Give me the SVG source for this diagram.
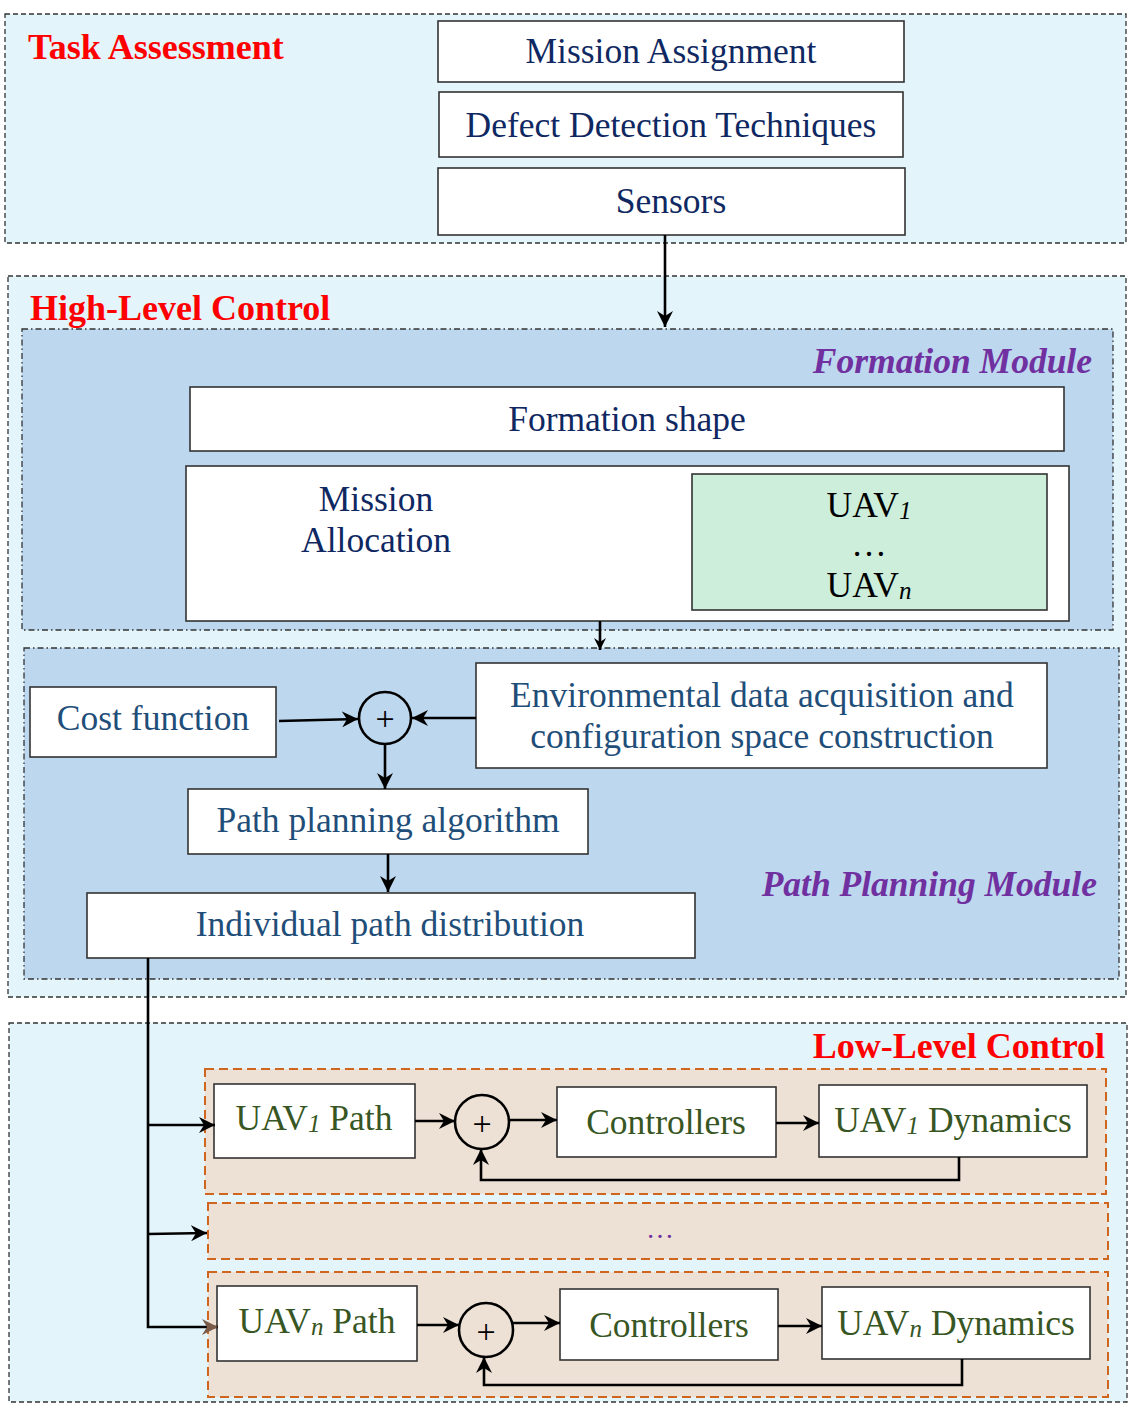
<svg xmlns="http://www.w3.org/2000/svg" width="1128" height="1415" viewBox="0 0 1128 1415">
<style>
.cont{fill:#E3F4FB;stroke:#333;stroke-width:1.3;stroke-dasharray:5,3}
.mod{fill:#BDD7EE;stroke:#333;stroke-width:1.3;stroke-dasharray:6,3,1.5,3}
.row{fill:#EDE1D6;stroke:#D0661E;stroke-width:2;stroke-dasharray:9,5}
.box{fill:#fff;stroke:#333;stroke-width:1.6}
.green{fill:#CCEEDB;stroke:#333;stroke-width:1.6}
text{font-family:"Liberation Serif","Times New Roman",serif;font-size:35.5px}
.t{text-anchor:middle}
.navy{fill:#0F2862}
.blue{fill:#1F4E79}
.grn{fill:#375623}
.blk{fill:#000}
.title{fill:#FF0000;font-weight:bold;font-size:36px}
.modlbl{fill:#7030A0;font-weight:bold;font-style:italic;text-anchor:end;font-size:35.5px}
.sub{font-style:italic;font-size:25px}
.plus{font-size:34px}
.conn{fill:none;stroke:#000;stroke-width:2.6}
.circ{fill:none;stroke:#000;stroke-width:2.6}
</style>
<defs>
<marker id="arr" markerUnits="userSpaceOnUse" markerWidth="18" markerHeight="16" refX="16" refY="8" orient="auto">
<path d="M0,0 L16,8 L0,16 L5,8 Z" fill="#000"/>
</marker>
<marker id="arrs" markerUnits="userSpaceOnUse" markerWidth="14" markerHeight="12" refX="12" refY="6" orient="auto">
<path d="M0,0 L12,6 L0,12 L4,6 Z" fill="#000"/>
</marker>
<marker id="arrb" markerUnits="userSpaceOnUse" markerWidth="18" markerHeight="16" refX="16" refY="8" orient="auto">
<path d="M0,0 L16,8 L0,16 L5,8 Z" fill="#7A5A48"/>
</marker>
</defs>

<g id="task-assessment">
<rect class="cont" x="5" y="14" width="1121" height="229"/>
<text class="title" x="28" y="59">Task Assessment</text>
</g>
<g id="mission-assignment">
<rect class="box" x="438" y="21" width="466" height="61"/>
<text class="t navy" x="671" y="63">Mission Assignment</text>
</g>
<g id="defect-detection">
<rect class="box" x="439" y="92" width="464" height="65"/>
<text class="t navy" x="671" y="137">Defect Detection Techniques</text>
</g>
<g id="sensors">
<rect class="box" x="438" y="168" width="467" height="67"/>
<text class="t navy" x="671" y="213">Sensors</text>
</g>

<g id="high-level-control">
<rect class="cont" x="8" y="276" width="1118" height="721"/>
<text class="title" x="30" y="320">High-Level Control</text>
</g>
<g id="formation-module">
<rect class="mod" x="22" y="329" width="1091" height="301"/>
<text class="modlbl" x="1092" y="373">Formation Module</text>
</g>
<g id="formation-shape">
<rect class="box" x="190" y="387" width="874" height="64"/>
<text class="t navy" x="627" y="431">Formation shape</text>
</g>
<g id="mission-allocation">
<rect class="box" x="186" y="466" width="883" height="155"/>
<text class="t navy" x="376" y="511">Mission</text>
<text class="t navy" x="376" y="552">Allocation</text>
</g>
<g id="uav-list">
<rect class="green" x="692" y="474" width="355" height="136"/>
<text class="t blk" x="869" y="517">UAV<tspan class="sub" dy="2">1</tspan></text>
<text class="t blk" x="869" y="556">…</text>
<text class="t blk" x="869" y="597">UAV<tspan class="sub" dy="2">n</tspan></text>
</g>

<g id="path-planning-module">
<rect class="mod" x="24" y="648" width="1095" height="331"/>
<text class="modlbl" x="1097" y="896">Path Planning Module</text>
</g>
<g id="cost-function">
<rect class="box" x="30" y="687" width="246" height="70"/>
<text class="t blue" x="153" y="730">Cost function</text>
</g>
<g id="sum-high">
<circle class="circ" cx="385" cy="718" r="26"/>
<text class="t blk plus" x="385" y="730">+</text>
</g>
<g id="environmental-data">
<rect class="box" x="476" y="663" width="571" height="105"/>
<text class="t blue" x="762" y="707">Environmental data acquisition and</text>
<text class="t blue" x="762" y="748">configuration space construction</text>
</g>
<g id="path-planning-algorithm">
<rect class="box" x="188" y="789" width="400" height="65"/>
<text class="t blue" x="388" y="832">Path planning algorithm</text>
</g>
<g id="individual-path-distribution">
<rect class="box" x="87" y="893" width="608" height="65"/>
<text class="t blue" x="390" y="936">Individual path distribution</text>
</g>

<g id="low-level-control">
<rect class="cont" x="9" y="1023" width="1118" height="379"/>
<text class="title" x="1105" y="1058" style="text-anchor:end">Low-Level Control</text>
</g>
<g id="row-uav1">
<rect class="row" x="205" y="1069" width="901" height="125"/>
</g>
<g id="row-dots">
<rect class="row" x="208" y="1203" width="900" height="56"/>
<text class="t" x="660" y="1238" style="fill:#7030A0;font-size:28px">…</text>
</g>
<g id="row-uavn">
<rect class="row" x="208" y="1272" width="900" height="125"/>
</g>

<g id="uav1-path">
<rect class="box" x="214" y="1084" width="201" height="74"/>
<text class="t grn" x="314" y="1130">UAV<tspan class="sub" dy="2">1</tspan><tspan dy="-2"> Path</tspan></text>
</g>
<g id="sum-uav1">
<circle class="circ" cx="482" cy="1122" r="27"/>
<text class="t blk plus" x="482" y="1135">+</text>
</g>
<g id="controllers-1">
<rect class="box" x="557" y="1087" width="219" height="70"/>
<text class="t grn" x="666" y="1134">Controllers</text>
</g>
<g id="uav1-dynamics">
<rect class="box" x="819" y="1085" width="268" height="72"/>
<text class="t grn" x="953" y="1132">UAV<tspan class="sub" dy="2">1</tspan><tspan dy="-2"> Dynamics</tspan></text>
</g>

<g id="uavn-path">
<rect class="box" x="217" y="1286" width="200" height="75"/>
<text class="t grn" x="317" y="1333">UAV<tspan class="sub" dy="2">n</tspan><tspan dy="-2"> Path</tspan></text>
</g>
<g id="sum-uavn">
<circle class="circ" cx="486" cy="1330" r="27"/>
<text class="t blk plus" x="486" y="1343">+</text>
</g>
<g id="controllers-n">
<rect class="box" x="560" y="1289" width="218" height="71"/>
<text class="t grn" x="669" y="1337">Controllers</text>
</g>
<g id="uavn-dynamics">
<rect class="box" x="822" y="1287" width="268" height="72"/>
<text class="t grn" x="956" y="1335">UAV<tspan class="sub" dy="2">n</tspan><tspan dy="-2"> Dynamics</tspan></text>
</g>

<g id="connectors">
<path class="conn" d="M665,235 V327" marker-end="url(#arr)"/>
<path class="conn" d="M600,621 V650" stroke-width="2" marker-end="url(#arrs)"/>
<path class="conn" d="M279,721 L358,719" marker-end="url(#arr)"/>
<path class="conn" d="M476,718 H412" marker-end="url(#arr)"/>
<path class="conn" d="M385,744 V789" marker-end="url(#arr)"/>
<path class="conn" d="M388,854 V892" marker-end="url(#arr)"/>
<path class="conn" d="M148,958 V1327 H218" marker-end="url(#arrb)"/>
<path class="conn" d="M148,1125 H215" marker-end="url(#arr)"/>
<path class="conn" d="M148,1234 L207,1233" marker-end="url(#arr)"/>
<path class="conn" d="M415,1121 H455" marker-end="url(#arr)"/>
<path class="conn" d="M510,1120 H557" marker-end="url(#arr)"/>
<path class="conn" d="M776,1123 H819" marker-end="url(#arr)"/>
<path class="conn" d="M959,1157 V1180 H481 V1149" marker-end="url(#arr)"/>
<path class="conn" d="M417,1325 H459" marker-end="url(#arr)"/>
<path class="conn" d="M513,1323 H560" marker-end="url(#arr)"/>
<path class="conn" d="M778,1326 H822" marker-end="url(#arr)"/>
<path class="conn" d="M962,1359 V1385 H484 V1357" marker-end="url(#arr)"/>
</g>
</svg>
